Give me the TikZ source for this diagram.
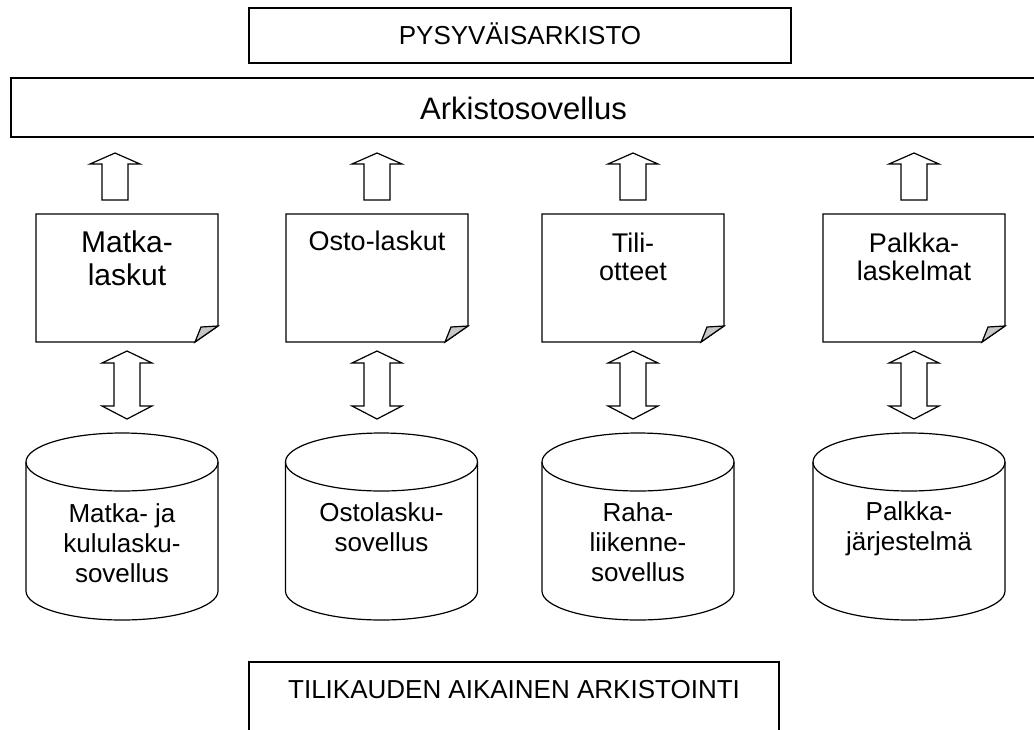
\documentclass[tikz,border=0pt]{standalone}
\usepackage{fontspec}
\setmainfont{Liberation Sans}
\usetikzlibrary{calc}
\tikzset{
  outline/.style={line width=1.2pt},
  archbox/.style={draw,line width=1.2pt,inner sep=0pt,outer sep=0pt,anchor=north},
  docpage/.style={inner sep=0pt,outer sep=0pt,anchor=north,minimum width=182pt,
    align=center,font=\fontsize{27}{28}\selectfont},
  dbnode/.style={inner sep=0pt,outer sep=0pt,anchor=north,minimum width=192pt,
    align=center,font=\fontsize{26}{30}\selectfont},
  fatarrow/.style={draw,line width=1.2pt,fill=white,line join=miter}
}
\newcommand\docoutline[1]{%
  \draw[outline] (#1.north west) -- (#1.north east) -- ([yshift=16pt]#1.south east)
    -- ([xshift=-23pt]#1.south east) -- (#1.south west) -- cycle;
  \filldraw[outline,fill=black!22] ([yshift=16pt]#1.south east) -- ([xshift=-17pt,yshift=15pt]#1.south east)
    -- ([xshift=-23pt]#1.south east) -- cycle;}
\newcommand\dboutline[1]{%
  \draw[outline] ([yshift=-29pt]#1.north) ellipse[x radius=96pt,y radius=29pt];
  \draw[outline] ([yshift=-29pt]#1.north west) -- ([yshift=29pt]#1.south west)
    arc[start angle=180,end angle=360,x radius=96pt,y radius=29pt] -- ([yshift=-29pt]#1.north east);}
\newcommand\upblock[3][0pt]{%
  \draw[fatarrow] let \p1=([xshift=#1,yshift=14pt]#2.north), \p2=([yshift=-16pt]#3.south) in
    (\x1-13pt,\y1) -- (\x1-13pt,\y2-11pt) -- (\x1-25pt,\y2-11pt) -- (\x1,\y2)
    -- (\x1+25pt,\y2-11pt) -- (\x1+13pt,\y2-11pt) -- (\x1+13pt,\y1) -- cycle;}
\newcommand\dblblock[2]{%
  \draw[fatarrow] let \p1=([yshift=-9pt]#1.south), \p2=([yshift=14pt]#2.north) in
    (\x1,\y1) -- (\x1+25pt,\y1-12pt) -- (\x1+13pt,\y1-12pt) -- (\x1+13pt,\y2+13pt)
    -- (\x1+25pt,\y2+13pt) -- (\x1,\y2) -- (\x1-25pt,\y2+13pt) -- (\x1-13pt,\y2+13pt)
    -- (\x1-13pt,\y1-12pt) -- (\x1-25pt,\y1-12pt) -- cycle;}
\begin{document}
\begin{tikzpicture}[x=1pt,y=-1pt]
  \useasboundingbox (0,0) rectangle (1034,729);
  % archive levels
  \node[archbox,minimum width=542pt,text height=36pt,text depth=19pt,font=\fontsize{26}{30}\selectfont] (pysyva) at (520,8) {PYSYVÄISARKISTO};
  \node[archbox,minimum width=1025pt,text height=41pt,text depth=18pt,font=\fontsize{31}{36}\selectfont] (sovellus) at (523.5,78) {Arkistosovellus};
  \node[archbox,minimum width=530pt,text height=36pt,text depth=40pt,font=\fontsize{26}{30}\selectfont] (tilikausi) at (514,662) {TILIKAUDEN AIKAINEN ARKISTOINTI};
  % documents
  \node[docpage,text height=71pt,text depth=57pt,font=\fontsize{30}{33}\selectfont] (matka) at (127,214) {Matka-\\laskut};
  \node[docpage,text height=36pt,text depth=92pt] (osto) at (377,214) {Osto-laskut};
  \node[docpage,text height=66pt,text depth=62pt] (tili) at (633,214) {Tili-\\otteet};
  \node[docpage,text height=66pt,text depth=62pt] (palkka) at (914,214) {Palkka-\\laskelmat};
  \docoutline{matka} \docoutline{osto} \docoutline{tili} \docoutline{palkka}
  % applications
  \node[dbnode,text height=149pt,text depth=38pt] (matkadb) at (122,433) {Matka- ja\\kululasku-\\sovellus};
  \node[dbnode,text height=118pt,text depth=69pt] (ostodb) at (381.5,433) {Ostolasku-\\sovellus};
  \node[dbnode,text height=148pt,text depth=39pt] (rahadb) at (638,433) {Raha-\\liikenne-\\sovellus};
  \node[dbnode,text height=117pt,text depth=70pt] (palkkadb) at (909,433) {Palkka-\\järjestelmä};
  \dboutline{matkadb} \dboutline{ostodb} \dboutline{rahadb} \dboutline{palkkadb}
  % arrows
  \upblock[-12pt]{matka}{sovellus}
  \upblock{osto}{sovellus}
  \upblock{tili}{sovellus}
  \upblock{palkka}{sovellus}
  \dblblock{matka}{matkadb}
  \dblblock{osto}{ostodb}
  \dblblock{tili}{rahadb}
  \dblblock{palkka}{palkkadb}
\end{tikzpicture}
\end{document}
